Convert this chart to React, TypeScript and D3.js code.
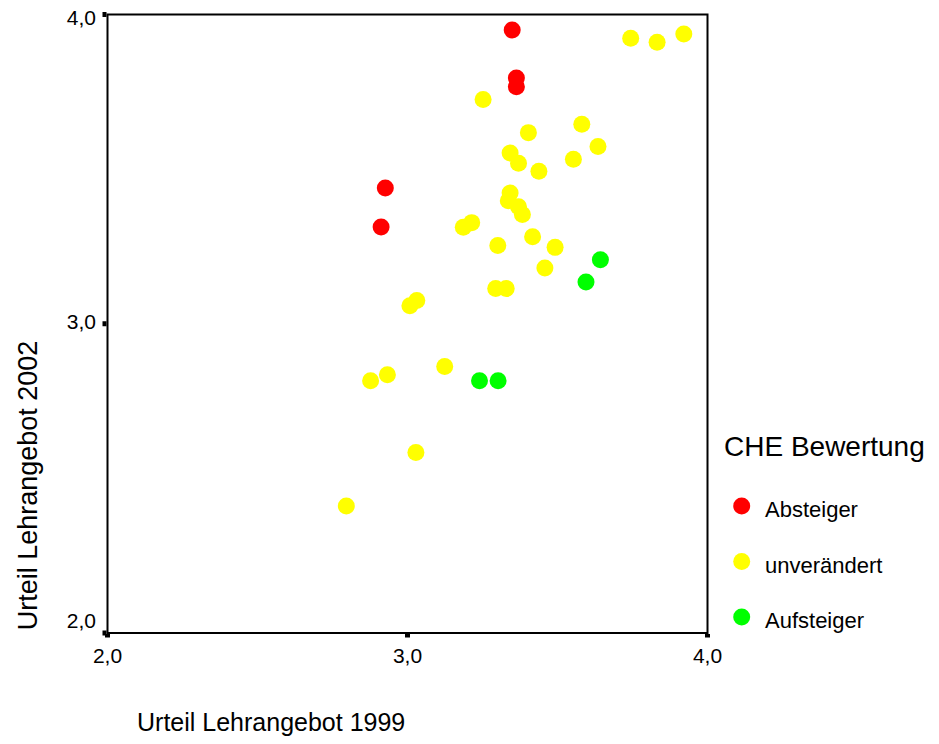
import React from "react";
import { scaleLinear } from "d3";

// CHE Bewertung groups: [Urteil 1999, Urteil 2002]
const absteiger: [number, number][] = [
  [3.349, 3.95], [3.363, 3.795], [3.363, 3.766], [2.926, 3.439], [2.912, 3.313],
];
const unveraendert: [number, number][] = [
  [3.744, 3.923], [3.832, 3.91], [3.921, 3.937], [3.252, 3.725], [3.581, 3.645],
  [3.403, 3.618], [3.635, 3.573], [3.342, 3.552], [3.37, 3.519], [3.553, 3.532],
  [3.438, 3.493], [3.342, 3.423], [3.336, 3.398], [3.37, 3.378], [3.383, 3.353],
  [3.214, 3.327], [3.186, 3.312], [3.417, 3.281], [3.301, 3.253], [3.492, 3.247],
  [3.458, 3.18], [3.294, 3.114], [3.329, 3.114], [3.031, 3.075], [3.008, 3.058],
  [2.877, 2.816], [2.933, 2.835], [3.124, 2.862], [3.028, 2.584], [2.796, 2.411],
];
const aufsteiger: [number, number][] = [
  [3.643, 3.207], [3.595, 3.135], [3.24, 2.816], [3.302, 2.816],
];

const groups = ["Absteiger", "unverändert", "Aufsteiger"];
const groupColors = ["#ff0000", "#ffff00", "#00ff00"];
const groupData = [absteiger, unveraendert, aufsteiger];

const xTicks = [2, 3, 4];
const yTicks = [2, 3, 4];
const fmt = (v: number) => v.toFixed(1).replace(".", ",");

const W = 939;
const H = 744;
const left = 107.5;
const right = 707.5;
const top = 14.5;
const bottom = 633;
const font = "'Liberation Sans', Arial, sans-serif";

export default function App() {
  const x = scaleLinear().domain([2, 4]).range([left, right]);
  const y = scaleLinear().domain([2, 4]).range([bottom, top]);
  const r = 8.5;

  // draw order: yellow first, then red and green on top
  const order = [1, 0, 2];

  return (
    <div style={{ position: "absolute", left: 0, top: 0 }}>
      <svg width={W} height={H} style={{ display: "block", background: "#fff" }}>
        {order.map((gi) => (
          <g key={gi}>
            {groupData[gi].map((d, i) => (
              <circle key={i} cx={x(d[0])} cy={y(d[1])} r={r} fill={groupColors[gi]} />
            ))}
          </g>
        ))}

        {/* frame */}
        <rect x={left} y={top} width={right - left} height={bottom - top}
          fill="none" stroke="#000" strokeWidth={2} />

        {/* x ticks */}
        {xTicks.map((t) => (
          <g key={"x" + t}>
            <rect x={x(t) - 2.5} y={bottom + 1} width={5} height={3.5} fill="#000" />
            <text x={x(t)} y={663} textAnchor="middle" fontFamily={font} fontSize={21}>
              {fmt(t)}
            </text>
          </g>
        ))}

        {/* y ticks */}
        {yTicks.map((t) => (
          <g key={"y" + t}>
            <rect x={left - 5} y={y(t) - 2.5} width={4} height={5} fill="#000" />
            <text x={96} y={Math.min(Math.max(y(t) + 5, 25), 628)} textAnchor="end"
              fontFamily={font} fontSize={21}>
              {fmt(t)}
            </text>
          </g>
        ))}

        {/* axis titles */}
        <text x={137} y={731} fontFamily={font} fontSize={25}>Urteil Lehrangebot 1999</text>
        <text transform={`translate(37,${(338 + 633) / 2}) rotate(-90)`} textAnchor="middle"
          fontFamily={font} fontSize={27}>
          Urteil Lehrangebot 2002
        </text>

        {/* legend */}
        <text x={724} y={456} fontFamily={font} fontSize={28}>CHE Bewertung</text>
        {groups.map((g, i) => (
          <g key={g} transform={`translate(0,${i * 55.5})`}>
            <circle cx={741.7} cy={506} r={r} fill={groupColors[i]} />
            <text x={765} y={517} fontFamily={font} fontSize={22}>{g}</text>
          </g>
        ))}
      </svg>
    </div>
  );
}
